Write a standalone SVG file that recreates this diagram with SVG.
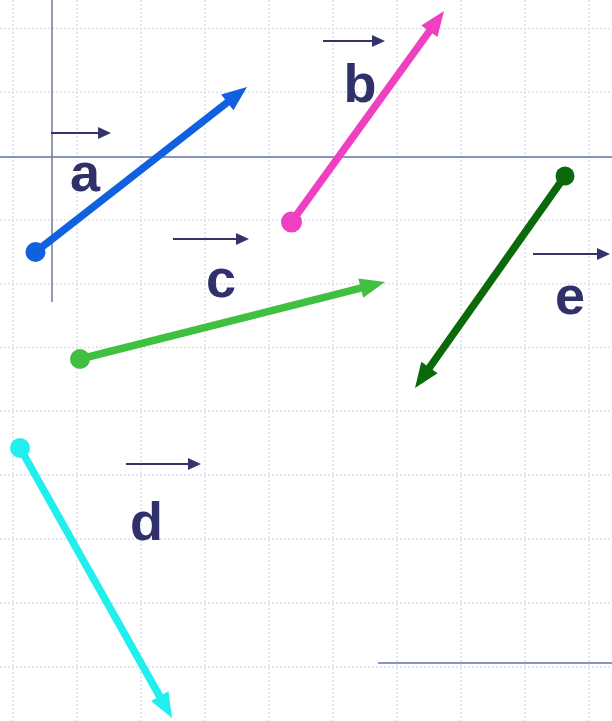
<svg xmlns="http://www.w3.org/2000/svg" width="612" height="721" viewBox="0 0 612 721">
<style>
.grid{stroke:#dcdfef;stroke-width:1.5;stroke-dasharray:2 2;fill:none}
.axis{stroke:#6470a8;stroke-width:1.6;fill:none}
.vec{stroke-width:7.5;fill:none;stroke-linecap:butt}
.sm{stroke:#34346a;stroke-width:2;fill:none}
.smh{fill:#34346a}
.lbl{font-family:"Liberation Sans",Arial,sans-serif;font-weight:bold;font-size:54px;fill:#30306a;text-anchor:middle}
</style>
<rect width="612" height="721" fill="#ffffff"/>
<g id="grid">
<path class="grid" d="M0,28.5H612M0,92.3H612M0,220H612M0,283.7H612M0,347.5H612M0,411H612M0,475H612M0,539H612M0,603H612M0,667H612"/>
<path class="grid" d="M13,0V721M77,0V721M141,0V721M205,0V721M269,0V721M333,0V721M397,0V721M461,0V721M525,0V721M589,0V721"/>
</g>
<g id="axes">
<line class="axis" x1="0" y1="157" x2="612" y2="157"/>
<line x1="52" y1="0" x2="52" y2="302" stroke="#7a80a0" stroke-width="1.6"/>
<line class="axis" x1="378" y1="663" x2="612" y2="663"/>
</g>
<g id="vector-a">
<line class="vec" stroke="#1060e0" x1="35.5" y1="252" x2="236" y2="95.6"/>
<circle cx="35.5" cy="252" r="10" fill="#1060e0"/>
<path d="M0,0L-25,-10L-25,10Z" fill="#1060e0" transform="translate(247,87) rotate(-37.96)"/>
<line class="sm" x1="51" y1="133" x2="104" y2="133"/>
<path class="smh" d="M111,133L98,127L98,139Z"/>
<text class="lbl" x="85" y="191">a</text>
</g>
<g id="vector-b">
<line class="vec" stroke="#ee40c0" x1="291.5" y1="222" x2="435.8" y2="22.4"/>
<circle cx="291.5" cy="222" r="10.5" fill="#ee40c0"/>
<path d="M0,0L-25,-10L-25,10Z" fill="#ee40c0" transform="translate(444,11) rotate(-54.14)"/>
<line class="sm" x1="323" y1="41" x2="378" y2="41"/>
<path class="smh" d="M385,41L372,35L372,47Z"/>
<text class="lbl" x="360" y="101.5">b</text>
</g>
<g id="vector-c">
<line class="vec" stroke="#40c040" x1="80" y1="359" x2="371.4" y2="285.4"/>
<circle cx="80" cy="359" r="10" fill="#40c040"/>
<path d="M0,0L-25,-10L-25,10Z" fill="#40c040" transform="translate(385,282) rotate(-14.17)"/>
<line class="sm" x1="173" y1="239" x2="242" y2="239"/>
<path class="smh" d="M249,239L236,233L236,245Z"/>
<text class="lbl" x="221" y="297">c</text>
</g>
<g id="vector-d">
<line class="vec" stroke="#22eeee" x1="20" y1="448" x2="165.1" y2="705.8"/>
<circle cx="20" cy="448" r="10" fill="#22eeee"/>
<path d="M0,0L-25,-10L-25,10Z" fill="#22eeee" transform="translate(172,718) rotate(60.62)"/>
<line class="sm" x1="126" y1="464" x2="194" y2="464"/>
<path class="smh" d="M201,464L188,458L188,470Z"/>
<text class="lbl" x="146.5" y="540">d</text>
</g>
<g id="vector-e">
<line class="vec" stroke="#0a6a0a" x1="565" y1="176" x2="423.1" y2="376.6"/>
<circle cx="565" cy="176" r="9.5" fill="#0a6a0a"/>
<path d="M0,0L-25,-10L-25,10Z" fill="#0a6a0a" transform="translate(415,388) rotate(125.28)"/>
<line class="sm" x1="533" y1="254" x2="603" y2="254"/>
<path class="smh" d="M610,254L597,248L597,260Z"/>
<text class="lbl" x="570" y="314">e</text>
</g>
</svg>
